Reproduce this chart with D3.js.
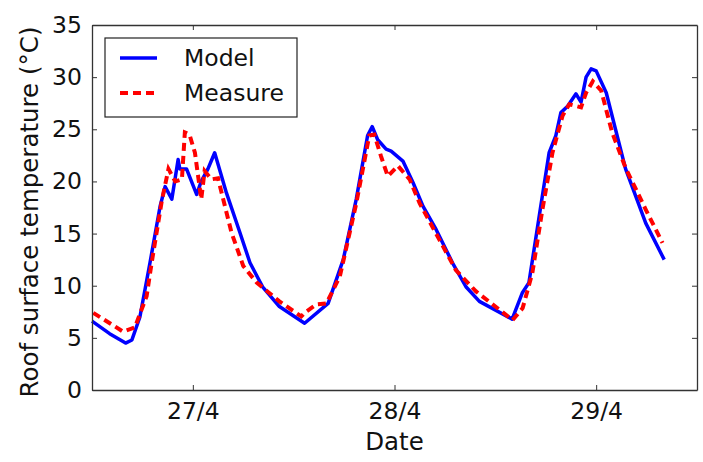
<!DOCTYPE html>
<html>
<head>
<meta charset="utf-8">
<script src="https://cdn.jsdelivr.net/npm/d3@7"></script>
<style>
  html, body { margin: 0; padding: 0; background: #fff; }
  svg { display: block; font-family: "DejaVu Sans", sans-serif; }
</style>
</head>
<body>
<svg id="chart" width="703" height="462"></svg>
<script>
// Hours since 26/4 00:00
const modelHours = [12.0, 14.1, 16.0, 16.75, 17.7, 18.9, 20.1, 20.7, 21.5, 22.25, 22.45, 23.25, 24.45, 25.0, 25.8, 26.6, 28.0, 29.6, 30.8, 32.3, 34.3, 37.3, 40.1, 41.9, 43.45, 44.8, 45.35, 46.0, 47.0, 47.6, 49.0, 50.2, 51.4, 52.95, 54.9, 56.5, 58.1, 62.0, 63.2, 64.0, 65.4, 66.4, 67.2, 67.8, 68.6, 69.6, 70.2, 70.8, 71.4, 72.0, 73.2, 74.3, 75.5, 77.9, 80.1];
const modelValues = [6.6, 5.4, 4.5, 4.8, 7.0, 12.2, 17.6, 19.5, 18.3, 22.1, 21.2, 21.2, 18.75, 20.0, 21.2, 22.75, 18.9, 15.1, 12.2, 9.9, 8.0, 6.4, 8.3, 12.5, 18.3, 24.4, 25.25, 24.0, 23.1, 22.9, 21.95, 19.9, 17.6, 15.4, 12.2, 9.9, 8.5, 6.8, 9.3, 10.3, 17.6, 22.75, 24.4, 26.6, 27.2, 28.4, 27.6, 30.0, 30.8, 30.6, 28.5, 25.0, 21.2, 16.0, 12.5];

const measureHours = [12.15, 15.7, 17.1, 18.5, 19.1, 20.3, 21.1, 21.9, 22.7, 23.05, 23.6, 24.25, 25.0, 25.4, 26.2, 27.0, 27.55, 28.6, 30.0, 31.6, 34.3, 36.9, 37.3, 38.7, 39.9, 41.5, 43.45, 45.0, 45.6, 46.4, 47.2, 48.4, 49.8, 51.0, 53.35, 55.3, 57.7, 60.5, 62.05, 63.25, 64.4, 65.6, 66.8, 68.0, 68.8, 70.2, 70.8, 71.6, 72.6, 73.9, 75.5, 77.9, 79.9];
const measureValues = [7.4, 5.6, 6.0, 9.0, 12.2, 18.1, 21.2, 20.0, 20.2, 24.7, 24.5, 22.75, 18.3, 21.0, 20.2, 20.3, 18.5, 15.1, 11.9, 10.3, 8.5, 7.05, 7.4, 8.2, 8.3, 10.9, 17.9, 24.4, 24.5, 22.4, 20.5, 21.5, 20.2, 17.9, 14.4, 11.5, 9.45, 7.7, 6.7, 7.85, 11.2, 17.3, 22.75, 26.3, 27.4, 27.1, 28.5, 29.6, 28.7, 24.7, 21.3, 17.3, 14.1];

const yTicks = [0, 5, 10, 15, 20, 25, 30, 35];
const xTickHours = [24, 48, 72];
const xTickLabels = ["27/4", "28/4", "29/4"];
const seriesNames = ["Model", "Measure"];

const base = new Date(2016, 3, 26, 0, 0, 0);
const toDate = h => new Date(base.getTime() + h * 3600 * 1000);

const margin = { left: 92, top: 25, right: 703 - 697, bottom: 462 - 390 };
const W = 703, H = 462;
const svg = d3.select("#chart");

const x = d3.scaleTime()
  .domain([toDate(12), toDate(84)])
  .range([margin.left, W - margin.right]);
const y = d3.scaleLinear()
  .domain([0, 35])
  .range([H - margin.bottom, margin.top]);

const axisColor = "#333";
const fontSize = 23.5;
const labelSize = 24.5;

// Lines
const line = d3.line().x(d => x(d.t)).y(d => y(d.v));
const modelData = modelHours.map((h, i) => ({ t: toDate(h), v: modelValues[i] }));
const measureData = measureHours.map((h, i) => ({ t: toDate(h), v: measureValues[i] }));

svg.append("path").datum(modelData)
  .attr("d", line).attr("fill", "none")
  .attr("stroke", "#0000ff").attr("stroke-width", 3.5)
  .attr("stroke-linejoin", "round");
svg.append("path").datum(measureData)
  .attr("d", line).attr("fill", "none")
  .attr("stroke", "#ff0000").attr("stroke-width", 4)
  .attr("stroke-dasharray", "8,5");

// Axes (ticks inside, on all four sides)
const xTickVals = xTickHours.map(toDate);
const fmt = (d, i) => xTickLabels[i];

const xBottom = d3.axisBottom(x).tickValues(xTickVals).tickFormat(fmt).tickSizeInner(-5).tickSizeOuter(0).tickPadding(12);
const xTop = d3.axisTop(x).tickValues(xTickVals).tickFormat("").tickSizeInner(-5).tickSizeOuter(0);
const yLeft = d3.axisLeft(y).tickValues(yTicks).tickFormat(d3.format("d")).tickSizeInner(-5).tickSizeOuter(0).tickPadding(10);
const yRight = d3.axisRight(y).tickValues(yTicks).tickFormat("").tickSizeInner(-5).tickSizeOuter(0);

function style(g) {
  g.select(".domain").attr("stroke", axisColor).attr("stroke-width", 1.3);
  g.selectAll(".tick line").attr("stroke", axisColor).attr("stroke-width", 1);
  g.selectAll(".tick text").attr("fill", "#111").style("font-size", fontSize + "px").style("font-family", "DejaVu Sans, sans-serif");
}

svg.append("g").attr("transform", `translate(0,${H - margin.bottom})`).call(xBottom).call(style);
svg.append("g").attr("transform", `translate(0,${margin.top})`).call(xTop).call(style);
svg.append("g").attr("transform", `translate(${margin.left},0)`).call(yLeft).call(style);
svg.append("g").attr("transform", `translate(${W - margin.right},0)`).call(yRight).call(style);

// Axis titles
svg.append("text")
  .attr("x", x(toDate(48)))
  .attr("y", 450)
  .attr("text-anchor", "middle")
  .attr("fill", "#111")
  .style("font-size", labelSize + "px")
  .text("Date");

svg.append("text")
  .attr("transform", `translate(38, 212) rotate(-90)`)
  .attr("text-anchor", "middle")
  .attr("fill", "#111")
  .style("font-size", labelSize + "px")
  .text("Roof surface temperature (°C)");

// Legend
const lg = svg.append("g");
lg.append("rect")
  .attr("x", 105).attr("y", 38).attr("width", 192).attr("height", 79)
  .attr("fill", "#fff").attr("stroke", "#222").attr("stroke-width", 1.2);
const legendStyles = [
  { color: "#0000ff", dash: null, w: 3.5 },
  { color: "#ff0000", dash: "8,5", w: 4 }
];
seriesNames.forEach((name, i) => {
  const cy = 58 + i * 35;
  const ln = lg.append("line")
    .attr("x1", 120).attr("x2", 157).attr("y1", cy).attr("y2", cy)
    .attr("stroke", legendStyles[i].color).attr("stroke-width", legendStyles[i].w);
  if (legendStyles[i].dash) ln.attr("stroke-dasharray", legendStyles[i].dash);
  lg.append("text")
    .attr("x", 184).attr("y", cy + 8)
    .attr("fill", "#111")
    .style("font-size", fontSize + "px")
    .text(name);
});
</script>
</body>
</html>
